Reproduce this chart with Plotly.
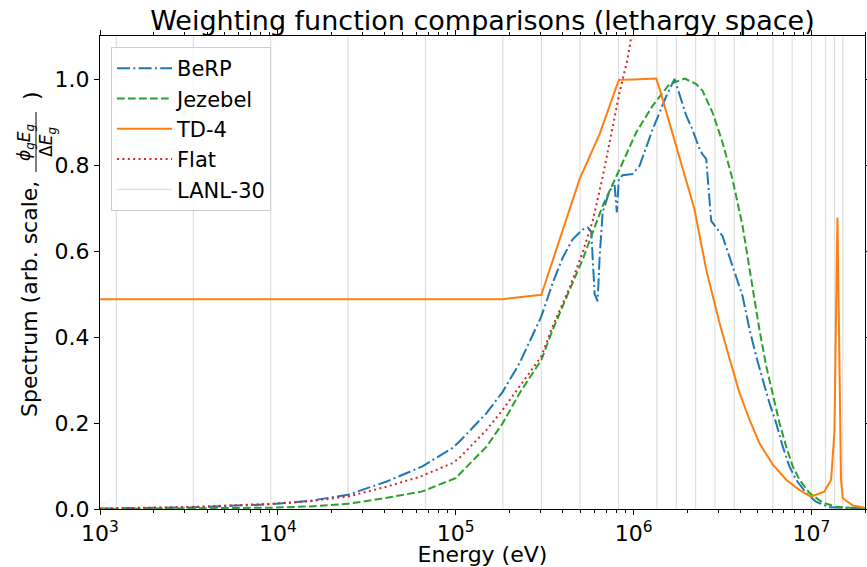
import math
import plotly.graph_objects as go

# ---------------- data ----------------
lanl30_bounds = [1.235e3, 3.35e3, 9.12e3, 2.48e4, 6.76e4, 1.84e5, 3.03e5, 5.0e5,
                 8.23e5, 1.353e6, 1.738e6, 2.232e6, 2.865e6, 3.68e6, 6.07e6,
                 7.79e6, 1.0e7, 1.2e7, 1.35e7, 1.5e7]

berp_energy = [1.0e3, 3.35e3, 9.12e3, 1.51e4, 2.48e4, 4.09e4, 6.5e4, 9.6e4, 1.05e5,
               1.49e5, 1.84e5, 2.29e5, 3.03e5, 3.51e5, 4.0e5, 4.54e5, 5.17e5, 5.52e5,
               5.78e5, 5.89e5, 6.04e5, 6.28e5, 6.44e5, 6.70e5, 7.33e5, 7.82e5, 8.05e5,
               8.26e5, 8.67e5, 9.87e5, 1.08e6, 1.28e6, 1.53e6, 1.70e6, 1.98e6, 2.14e6,
               2.35e6, 2.44e6, 2.56e6, 2.67e6, 2.73e6, 3.16e6, 3.60e6, 3.78e6, 4.10e6,
               4.49e6, 4.89e6, 5.33e6, 5.81e6, 6.33e6, 6.90e6, 7.52e6, 8.20e6, 9.34e6,
               1.06e7, 1.26e7, 1.6e7, 2.0e7]
berp_values = [0.001, 0.004, 0.011, 0.019, 0.033, 0.064, 0.099, 0.142, 0.157,
               0.223, 0.273, 0.340, 0.448, 0.526, 0.585, 0.627, 0.650, 0.655,
               0.645, 0.573, 0.500, 0.483, 0.585, 0.690, 0.740, 0.753, 0.690,
               0.767, 0.776, 0.779, 0.798, 0.883, 0.961, 1.000, 0.914, 0.883,
               0.837, 0.825, 0.814, 0.720, 0.670, 0.635, 0.565, 0.534, 0.495,
               0.417, 0.355, 0.300, 0.246, 0.200, 0.145, 0.099, 0.068, 0.037,
               0.017, 0.004, 0.002, 0.001]

jezebel_energy = [1.0e3, 3.35e3, 9.12e3, 1.51e4, 2.48e4, 4.09e4, 6.5e4, 1.0e5, 1.49e5,
                  1.84e5, 2.29e5, 3.03e5, 3.51e5, 4.37e5, 5.17e5, 5.89e5, 6.70e5,
                  8.34e5, 1.035e6, 1.28e6, 1.59e6, 1.94e6, 2.25e6, 2.44e6, 2.78e6,
                  3.16e6, 3.60e6, 4.10e6, 4.58e6, 5.10e6, 5.57e6, 6.07e6, 6.61e6,
                  7.21e6, 7.85e6, 8.57e6, 9.75e6, 1.156e7, 1.375e7, 2.0e7]
jezebel_values = [0.000, 0.001, 0.003, 0.006, 0.012, 0.026, 0.041, 0.072, 0.145,
                  0.200, 0.270, 0.347, 0.417, 0.510, 0.580, 0.643, 0.705,
                  0.790, 0.876, 0.938, 0.988, 1.001, 0.988, 0.973, 0.922,
                  0.853, 0.767, 0.658, 0.534, 0.417, 0.332, 0.262, 0.200,
                  0.145, 0.099, 0.068, 0.037, 0.015, 0.005, 0.001]

td4_energy = [1.0e3, 3.35e3, 1.0e4, 2.48e4, 6.76e4, 1.84e5, 3.03e5, 4.97e5, 6.44e5,
              8.26e5, 1.0e6, 1.34e6, 1.40e6, 1.74e6, 2.20e6, 2.56e6, 3.04e6, 3.46e6,
              3.94e6, 4.49e6, 5.10e6, 6.07e6, 7.21e6, 8.57e6, 9.95e6, 1.18e7,
              1.29e7, 1.346e7, 1.38e7, 1.40e7, 1.43e7, 1.466e7, 1.50e7, 1.71e7, 2.0e7]
td4_values = [0.488, 0.488, 0.487, 0.487, 0.488, 0.488, 0.498, 0.767, 0.872,
              0.998, 0.999, 1.001, 0.977, 0.845, 0.697, 0.557, 0.433, 0.350,
              0.270, 0.207, 0.153, 0.103, 0.068, 0.044, 0.029, 0.040,
              0.068, 0.180, 0.550, 0.678, 0.400, 0.068, 0.025, 0.008, 0.003]

flat_energy = [1.0e3, 3.35e3, 9.12e3, 1.51e4, 2.48e4, 4.09e4, 6.28e4, 9.62e4, 1.05e5,
               1.49e5, 1.84e5, 2.29e5, 3.03e5, 3.51e5, 4.37e5, 5.17e5, 5.89e5,
               6.70e5, 7.62e5, 8.34e5, 9.25e5, 1.0e6]
flat_values = [0.001, 0.005, 0.012, 0.018, 0.029, 0.052, 0.075, 0.107, 0.119,
               0.184, 0.231, 0.285, 0.355, 0.425, 0.515, 0.597, 0.670,
               0.772, 0.883, 0.969, 1.047, 1.130]

x_tick_values = [1e3, 1e4, 1e5, 1e6, 1e7]
x_tick_labels = ["10<sup>3</sup>", "10<sup>4</sup>", "10<sup>5</sup>",
                 "10<sup>6</sup>", "10<sup>7</sup>"]
X_MIN, X_MAX = 1.0e3, 2.0e7
Y_MIN, Y_MAX = 0.0, 1.1

# ---------------- figure ----------------
FONT = "DejaVu Sans"
fig = go.Figure()

vx, vy = [], []
for b in lanl30_bounds:
    vx += [b, b, None]
    vy += [Y_MIN, Y_MAX, None]
fig.add_trace(go.Scatter(x=vx, y=vy, mode="lines", name="LANL-30",
                         line=dict(color="rgba(200,200,200,0.6)", width=1.2),
                         legendrank=5, legendgroup="g5", hoverinfo="skip"))

fig.add_trace(go.Scatter(x=berp_energy, y=berp_values, mode="lines", name="BeRP",
                         line=dict(color="#1f77b4", width=2, dash="13px,3.3px,2px,3.3px"),
                         legendrank=1, legendgroup="g1"))
fig.add_trace(go.Scatter(x=jezebel_energy, y=jezebel_values, mode="lines", name="Jezebel",
                         line=dict(color="#2ca02c", width=2, dash="7.7px,3.3px"),
                         legendrank=2, legendgroup="g2"))
fig.add_trace(go.Scatter(x=td4_energy, y=td4_values, mode="lines", name="TD-4",
                         line=dict(color="#ff7f0e", width=2),
                         legendrank=3, legendgroup="g3"))
fig.add_trace(go.Scatter(x=flat_energy, y=flat_values, mode="lines", name="Flat",
                         line=dict(color="#d62728", width=2, dash="2px,3.4px"),
                         legendrank=4, legendgroup="g4"))

L, R, T, B = 100, 2, 36, 58
W, H = 867, 567
pw, ph = W - L - R, H - T - B

def px_x(p):
    return (p - L) / pw

def px_y(p):
    return (H - B - p) / ph

axis_common = dict(showline=True, linecolor="black", linewidth=1, mirror="ticks",
                   ticks="outside", ticklen=5, tickwidth=1, tickcolor="black",
                   showgrid=False, zeroline=False, automargin=False,
                   tickfont=dict(family=FONT, size=22, color="black"))

fig.update_xaxes(type="log", range=[math.log10(X_MIN), math.log10(X_MAX)],
                 tickvals=x_tick_values, ticktext=x_tick_labels,
                 minor=dict(ticks="outside", ticklen=3, tickwidth=1, tickcolor="black",
                            dtick="D1", showgrid=False),
                 title=dict(text="Energy (eV)", font=dict(family=FONT, size=22, color="black"),
                            standoff=6),
                 **axis_common)
fig.update_yaxes(range=[Y_MIN, Y_MAX], dtick=0.2, tick0=0, tickformat=".1f",
                 **axis_common)

ann_font = dict(family=FONT, size=22, color="black")
sm_font = dict(family=FONT, size=17, color="black")
annotations = [
    dict(text="Spectrum (arb. scale,", textangle=-90, xref="paper", yref="paper",
         x=px_x(29), y=px_y(419), xanchor="center", yanchor="bottom",
         showarrow=False, font=ann_font),
    dict(text="<i>ϕ</i><sub><i>g</i></sub><i>E</i><sub><i>g</i></sub>", textangle=-90,
         xref="paper", yref="paper",
         x=px_x(25), y=px_y(142), xanchor="center", yanchor="middle",
         showarrow=False, font=sm_font),
    dict(text="Δ<i>E</i><sub><i>g</i></sub>", textangle=-90, xref="paper", yref="paper",
         x=px_x(47), y=px_y(142), xanchor="center", yanchor="middle",
         showarrow=False, font=sm_font),
    dict(text=")", textangle=-90, xref="paper", yref="paper",
         x=px_x(31), y=px_y(96), xanchor="center", yanchor="middle",
         showarrow=False, font=ann_font),
]
shapes = [dict(type="line", xref="paper", yref="paper", x0=px_x(36), x1=px_x(36),
               y0=px_y(172), y1=px_y(112), line=dict(color="black", width=1))]

fig.update_layout(
    width=W, height=H,
    margin=dict(l=L, r=R, t=T, b=B, pad=0, autoexpand=False),
    paper_bgcolor="white", plot_bgcolor="white",
    font=dict(family=FONT, color="black"),
    title=dict(text="Weighting function comparisons (lethargy space)",
               font=dict(family=FONT, size=27, color="black"),
               x=0.5, xref="paper", xanchor="center",
               y=1, yref="paper", yanchor="bottom", pad=dict(b=6)),
    legend=dict(x=px_x(111), y=px_y(47), xanchor="left", yanchor="top",
                bgcolor="rgba(255,255,255,0.85)", bordercolor="#cccccc", borderwidth=1,
                font=dict(family=FONT, size=21, color="black"),
                tracegroupgap=0, itemwidth=55),
    annotations=annotations, shapes=shapes,
    showlegend=True,
)

fig.write_html("out.html",
               config={"displayModeBar": False},
               post_script="document.body.style.margin='0';"
                           "document.body.style.overflow='hidden';")
